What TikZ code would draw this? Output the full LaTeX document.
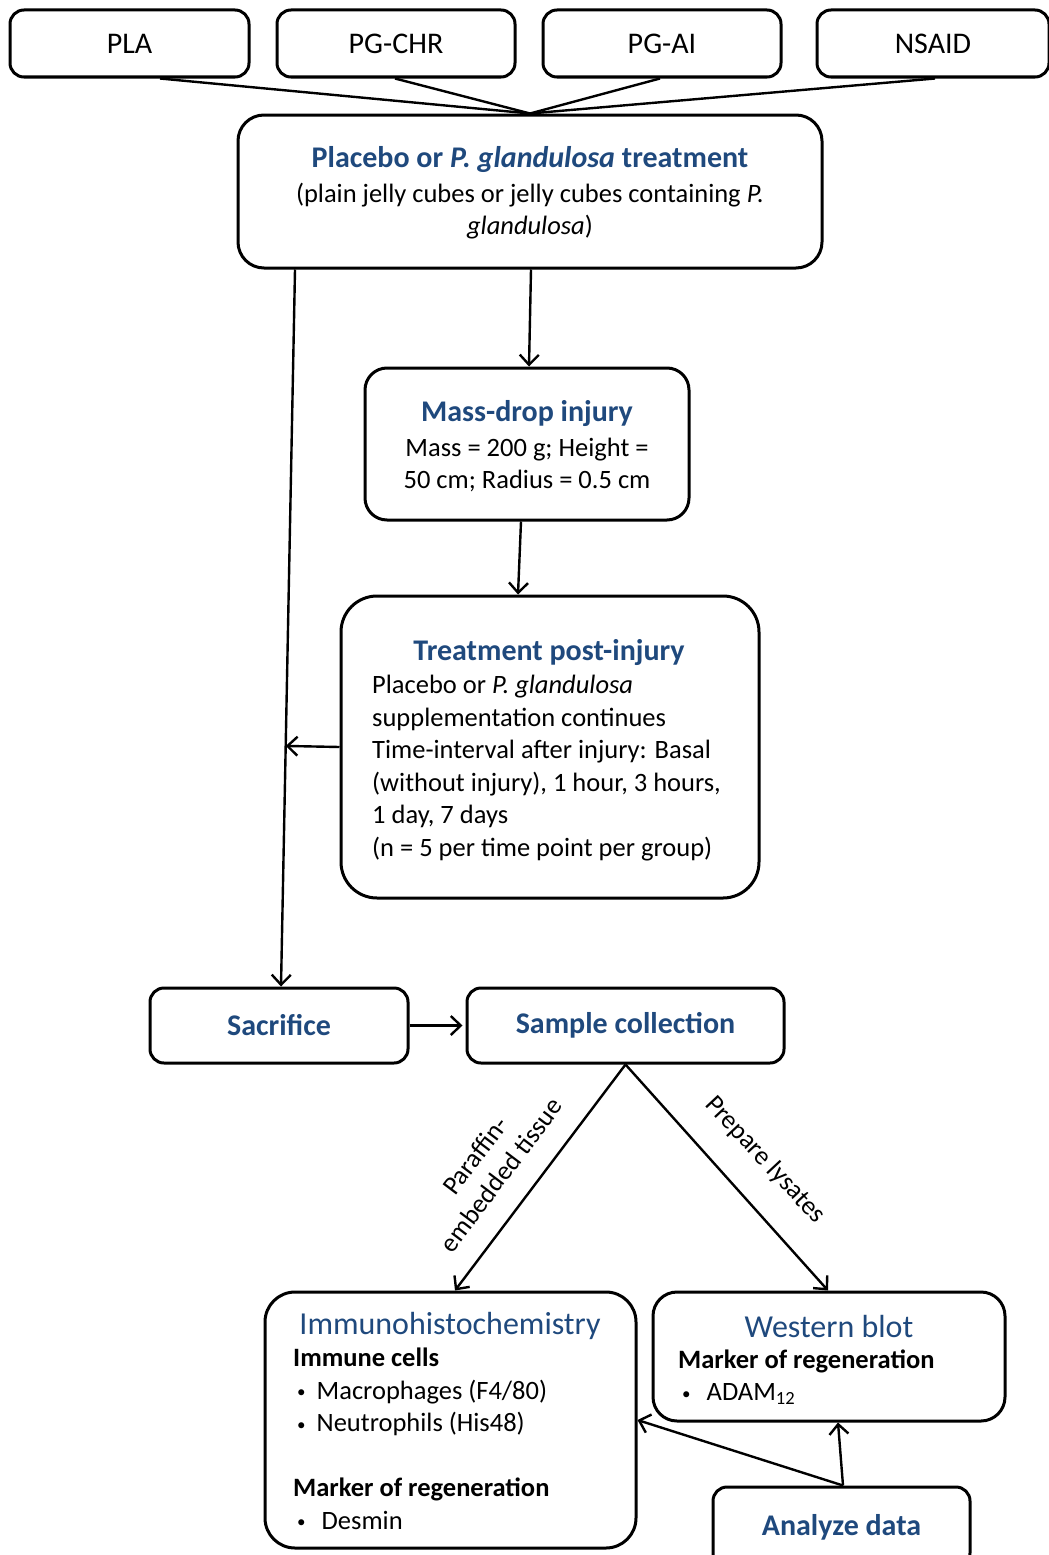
\documentclass[tikz,border=0pt]{standalone}
\usepackage{fontspec}
\setmainfont{Carlito}
\usetikzlibrary{arrows.meta,calc}
\definecolor{tblue}{HTML}{1F497D}
\newcommand{\smbul}{{\fontsize{17}{17}\selectfont\raisebox{1.5pt}{\textbullet}}}
\begin{document}
\begin{tikzpicture}[x=1pt,y=-1pt,
  box/.style={draw,line width=3pt,rounded corners=#1,inner sep=0pt},
  box/.default=14pt,
  conn/.style={line width=2.4pt},
  arr/.style={line width=2.4pt,-{Straight Barb[length=10pt,width=19pt]}},
  toplab/.style={font=\fontsize{30}{36}\selectfont},
  ttl/.style={text=tblue,font=\fontsize{30}{36}\selectfont\bfseries,inner sep=0pt},
  ttlr/.style={text=tblue,font=\fontsize{32}{38}\selectfont,inner sep=0pt},
  body/.style={font=\fontsize{26.5}{32.5}\selectfont,inner sep=0pt},
]
\useasboundingbox (0,0) rectangle (1049,1555);
% top groups
\node[box,minimum width=239pt,minimum height=67pt,toplab] (pla) at (129.5,43.5) {PLA};
\node[box,minimum width=238pt,minimum height=67pt,toplab] (pgchr) at (396,43.5) {PG-CHR};
\node[box,minimum width=238pt,minimum height=67pt,toplab] (pgai) at (662,43.5) {PG-AI};
\node[box,minimum width=232pt,minimum height=67pt,toplab] (nsaid) at (933,43.5) {NSAID};
% main
\node[box=26pt,minimum width=584pt,minimum height=153pt] (main) at (530,191.5) {};
\node[ttl] (mainT) at (530,160) {Placebo or \textit{P. glandulosa} treatment};
\node[body,align=center] (mainB) at (530,211) {(plain jelly cubes or jelly cubes containing \textit{P.}\\\textit{glandulosa})};
% mass drop
\node[box=22pt,minimum width=324pt,minimum height=152pt] (mass) at (527,444) {};
\node[ttl] (massT) at (527,414) {Mass-drop injury};
\node[body,align=center] (massB) at (527,465) {Mass = 200 g; Height =\\50 cm; Radius = 0.5 cm};
% treatment
\node[box=36pt,minimum width=418pt,minimum height=302pt] (treat) at (550,747) {};
\node[ttl] (treatT) at (549,653) {Treatment post-injury};
\node[body,align=left,anchor=west] (treatB) at (372,768) {Placebo or \textit{P. glandulosa}\\supplementation continues\\Time-interval after injury: Basal\\(without injury), 1 hour, 3 hours,\\1 day, 7 days\\(n = 5 per time point per group)};
% sacrifice / sample
\node[box,minimum width=258pt,minimum height=75pt,ttl] (sac) at (279,1025.5) {Sacrifice};
\node[box,minimum width=317pt,minimum height=75pt,ttl] (samp) at (625.5,1025.5) {Sample collection};
% IHC
\node[box=30pt,minimum width=371pt,minimum height=256pt] (ihc) at (450.5,1420) {};
\node[ttlr] (ihcT) at (450,1326) {Immunohistochemistry};
\node[body,align=left,anchor=west] (ihcB) at (293,1439) {\textbf{Immune cells}\\\hspace*{4pt}\smbul\hspace{11pt}Macrophages (F4/80)\\\hspace*{4pt}\smbul\hspace{11pt}Neutrophils (His48)\\\mbox{}\\\textbf{Marker of regeneration}\\\hspace*{4pt}\smbul\hspace{16pt}Desmin};
% western blot
\node[box=24pt,minimum width=352pt,minimum height=129pt] (wb) at (829,1356.5) {};
\node[ttlr] (wbT) at (829,1326) {Western blot};
\node[body,align=left,anchor=west] (wbB) at (678,1377) {\textbf{Marker of regeneration}\\\hspace*{4pt}\smbul\hspace{16pt}ADAM\textsubscript{12}};
% analyze
\node[box,minimum width=257pt,minimum height=80pt,ttl] (an) at (841.5,1527) {Analyze data};
% connectors
\draw[conn] ([xshift=30.5pt]pla.south) -- (main.north);
\draw[conn] ([xshift=-1pt]pgchr.south) -- (main.north);
\draw[conn] ([xshift=-2pt]pgai.south) -- (main.north);
\draw[conn] ([xshift=2pt]nsaid.south) -- (main.north);
\draw[arr] ([xshift=1pt]main.south) -- ([xshift=2pt]mass.north);
\draw[arr] ([xshift=-6pt]mass.south) -- ([xshift=-32pt]treat.north);
\coordinate (mL) at ([xshift=-235pt]main.south);
\coordinate (sacN) at ([xshift=2pt]sac.north);
\draw[arr] (mL) -- (sacN);
\coordinate (tj) at ($(mL)!(treat.west)!(sacN)$);
\draw[arr] (treat.west) -- (tj);
\draw[arr,shorten >=3pt] (sac.east) -- (samp.west);
\draw[arr] (samp.south) -- ([xshift=4.5pt]ihc.north);
\draw[arr] (samp.south) -- ([xshift=-1pt]wb.north);
\node[body,rotate=53,align=center] (lpar) at (488,1165) {Paraffin-\\embedded tissue};
\node[body,rotate=-47] (llys) at (765,1160) {Prepare lysates};
\draw[arr] ([xshift=1.5pt]an.north) -- ([xshift=9pt]wb.south);
\draw[arr] ([xshift=1.5pt]an.north) -- (ihc.east);
\end{tikzpicture}
\end{document}
